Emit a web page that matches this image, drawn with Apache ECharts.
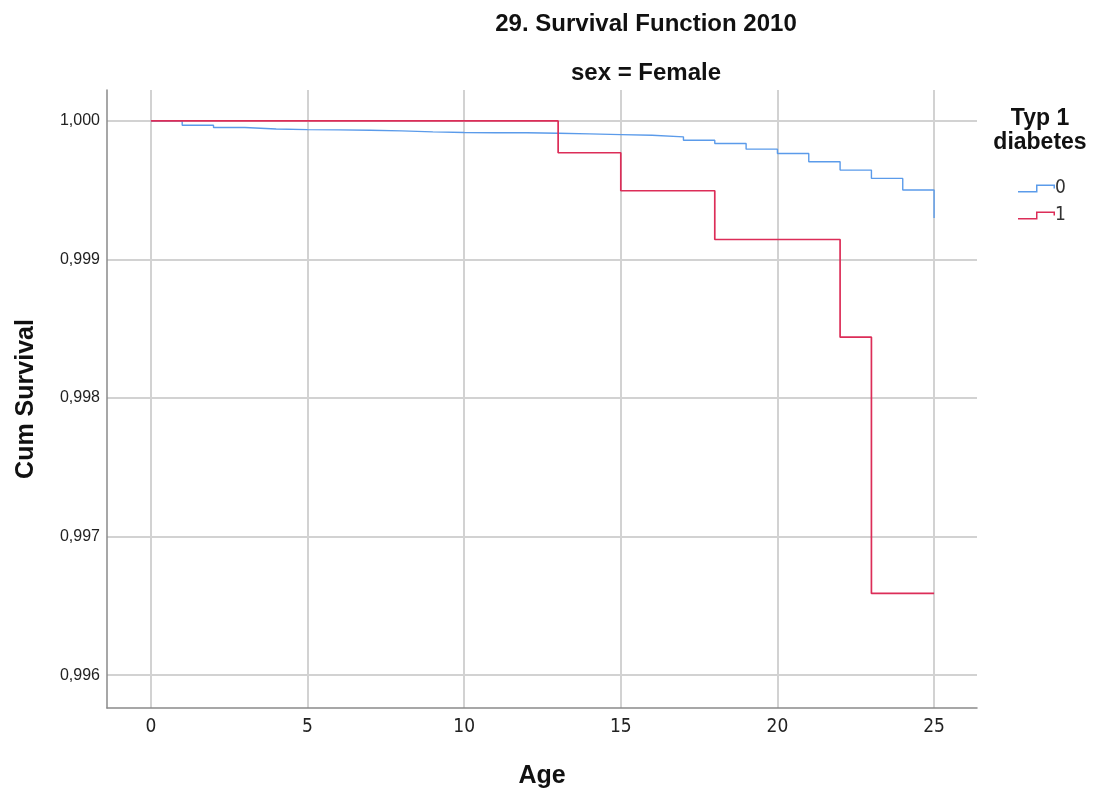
<!DOCTYPE html>
<html>
<head>
<meta charset="utf-8">
<script src="https://cdn.jsdelivr.net/npm/echarts@6/dist/echarts.min.js"></script>
<style>
html,body{margin:0;padding:0;background:#fff;}
#chart{width:1094px;height:794px;}
</style>
</head>
<body>
<div id="chart"></div>
<script>
// Data (Kaplan-Meier style step values)
const ages0 = [0,1,2,3,4,5,6,7,8,9,10,11,12,13,14,15,16,17,18,19,20,21,22,23,24,25];
const surv0 = [1.0,0.999969,0.999952,0.999942,0.999937,0.999935,0.999933,0.999928,0.999921,0.999916,0.999915,0.999914,0.999911,0.999906,0.999901,0.999896,0.999885,0.99986,0.999837,0.999796,0.999765,0.999705,0.999645,0.999585,0.999501,0.9993];
const ages1 = [0,13,15,18,22,23,25];
const surv1 = [1.0,0.99977,0.999496,0.999144,0.998439,0.99659,0.99659];
const groupNames = ['0','1'];
const xTicks = [0,5,10,15,20,25];
const yTicks = [0.996,0.997,0.998,0.999,1.000];
const titleText = '29. Survival Function 2010';
const subtitleText = 'sex = Female';
const legendTitle = 'Typ 1\ndiabetes';
const xName = 'Age';
const yName = 'Cum Survival';

const colors = ['#5b9bea','#dc2d58'];
const FONT = '"Liberation Sans", Arial, sans-serif';
const NARROW = '"Liberation Sans Narrow", "Arial Narrow", "DejaVu Sans Condensed", sans-serif';
const stepIcon = 'path://M0,6.5L18,6.5L18,0L37,0L37,4L35.5,4L35.5,1.5L19.5,1.5L19.5,8L0,8Z';

const chart = echarts.init(document.getElementById('chart'), null, {renderer:'canvas'});
chart.setOption({
  animation: false,
  backgroundColor: '#fff',
  grid: {left:107, right:117, top:90, bottom:84, containLabel:false},
  graphic: [
    {type:'text', x:646, y:24, style:{text:titleText, textAlign:'center', textVerticalAlign:'middle', font:'bold 24px ' + FONT, fill:'#111'}},
    {type:'text', x:646, y:73, style:{text:subtitleText, textAlign:'center', textVerticalAlign:'middle', font:'bold 24px ' + FONT, fill:'#111'}},
    {type:'text', x:1040, y:131, style:{text:legendTitle, textAlign:'center', textVerticalAlign:'middle', font:'bold 23px ' + FONT, fill:'#111', lineHeight:24}}
  ],
  legend: {
    orient:'vertical', left:1013, top:174, itemWidth:37, itemHeight:8, itemGap:8,
    textStyle:{fontSize:19, color:'#333', fontFamily:NARROW, padding:[0,0,0,-5]},
    data: groupNames.map(n => ({name:n, icon:stepIcon})),
    selectedMode:false
  },
  xAxis: {
    type:'value', min:-1.4, max:26.37,
    name:xName, nameLocation:'middle', nameGap:56,
    nameTextStyle:{fontSize:25, fontWeight:'bold', color:'#111', fontFamily:FONT},
    axisLine:{show:true, lineStyle:{color:'#8a8a8a', width:1.5}},
    axisTick:{show:false, customValues:xTicks},
    axisLabel:{customValues:xTicks, fontSize:19, color:'#222', fontFamily:NARROW, margin:10},
    splitLine:{show:true, lineStyle:{color:'#d2d2d2', width:2}}
  },
  yAxis: {
    type:'value', min:0.995763, max:1.000223,
    name:yName, nameLocation:'middle', nameGap:68, nameRotate:90,
    nameTextStyle:{fontSize:25, fontWeight:'bold', color:'#111', fontFamily:FONT},
    axisLine:{show:true, onZero:false, lineStyle:{color:'#8a8a8a', width:1.5}},
    axisTick:{show:false, customValues:yTicks},
    axisLabel:{customValues:yTicks, fontSize:16, color:'#222', fontFamily:FONT, margin:7,
      formatter: v => v.toFixed(3).replace('.', ',')},
    splitLine:{show:true, lineStyle:{color:'#d2d2d2', width:2}}
  },
  series: [
    {name:groupNames[0], type:'line', step:'end', showSymbol:false, color:colors[0],
     lineStyle:{width:1.4, color:colors[0]}, data: ages0.map((a,i)=>[a, surv0[i]])},
    {name:groupNames[1], type:'line', step:'end', showSymbol:false, color:colors[1],
     lineStyle:{width:1.7, color:colors[1]}, data: ages1.map((a,i)=>[a, surv1[i]])}
  ]
});
</script>
</body>
</html>
